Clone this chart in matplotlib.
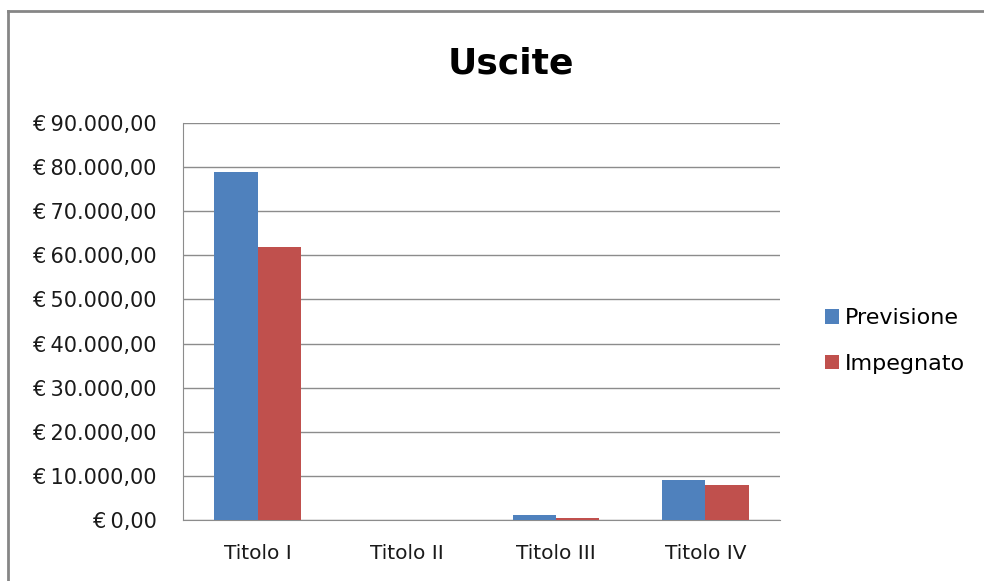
import matplotlib.pyplot as plt
import numpy as np

# data #########################################################
categories = ["Titolo I", "Titolo II", "Titolo III", "Titolo IV"]
previsione = [79000, 0, 1150, 9100]
impegnato = [62000, 0, 400, 7900]
y_ticks = [0, 10000, 20000, 30000, 40000, 50000, 60000, 70000, 80000, 90000]

BLUE = "#4f81bd"
RED = "#c0504d"


def euro(v):
    s = f"{v:,.2f}".replace(",", "X").replace(".", ",").replace("X", ".")
    return "€\u2009" + s


def main():
    plt.rcParams["font.family"] = ["DejaVu Sans"]
    fig = plt.figure(figsize=(9.84, 5.81), dpi=100)
    W, H = 984, 581
    ax = fig.add_axes([183 / W, (H - 520) / H, (780 - 183) / W, (520 - 123) / H])

    x = np.arange(len(categories))
    bw = 0.29
    ax.bar(x - bw / 2, previsione, bw, color=BLUE, label="Previsione", zorder=3)
    ax.bar(x + bw / 2, impegnato, bw, color=RED, label="Impegnato", zorder=3)

    ax.set_xlim(-0.5, len(categories) - 0.5)
    ax.set_ylim(0, 90000)
    ax.set_yticks(y_ticks)
    ax.set_yticklabels([euro(v) for v in y_ticks], fontsize=15, color="#1a1a1a")
    ax.set_xticks(x)
    ax.set_xticklabels(categories, fontsize=14.5, color="#1a1a1a")
    ax.tick_params(axis="y", length=0, pad=19)
    ax.tick_params(axis="x", length=0, pad=17)

    ax.grid(axis="y", color="#8c8c8c", linewidth=1, zorder=0)
    for side in ["top", "right"]:
        ax.spines[side].set_visible(False)
    ax.spines["left"].set_color("#8c8c8c")
    ax.spines["bottom"].set_color("#8c8c8c")

    fig.text(511 / W, 1 - 64 / H, "Uscite", fontsize=26, fontweight="bold",
             ha="center", va="center", color="#000000")

    ax.legend(loc="center left", bbox_to_anchor=(825 / W, 1 - 341 / H),
              bbox_transform=fig.transFigure, frameon=False, fontsize=16,
              handlelength=0.65, handleheight=0.65, handletextpad=0.25,
              labelspacing=1.15, borderpad=0, borderaxespad=0)

    # bordo del grafico
    fig.add_artist(plt.Line2D([8 / W, 1], [1 - 11 / H, 1 - 11 / H],
                              transform=fig.transFigure, color="#868686", linewidth=2))
    fig.add_artist(plt.Line2D([8 / W, 8 / W], [0, 1 - 11 / H],
                              transform=fig.transFigure, color="#868686", linewidth=2))

    fig.savefig("out.png", dpi=100)


if __name__ == "__main__":
    main()
